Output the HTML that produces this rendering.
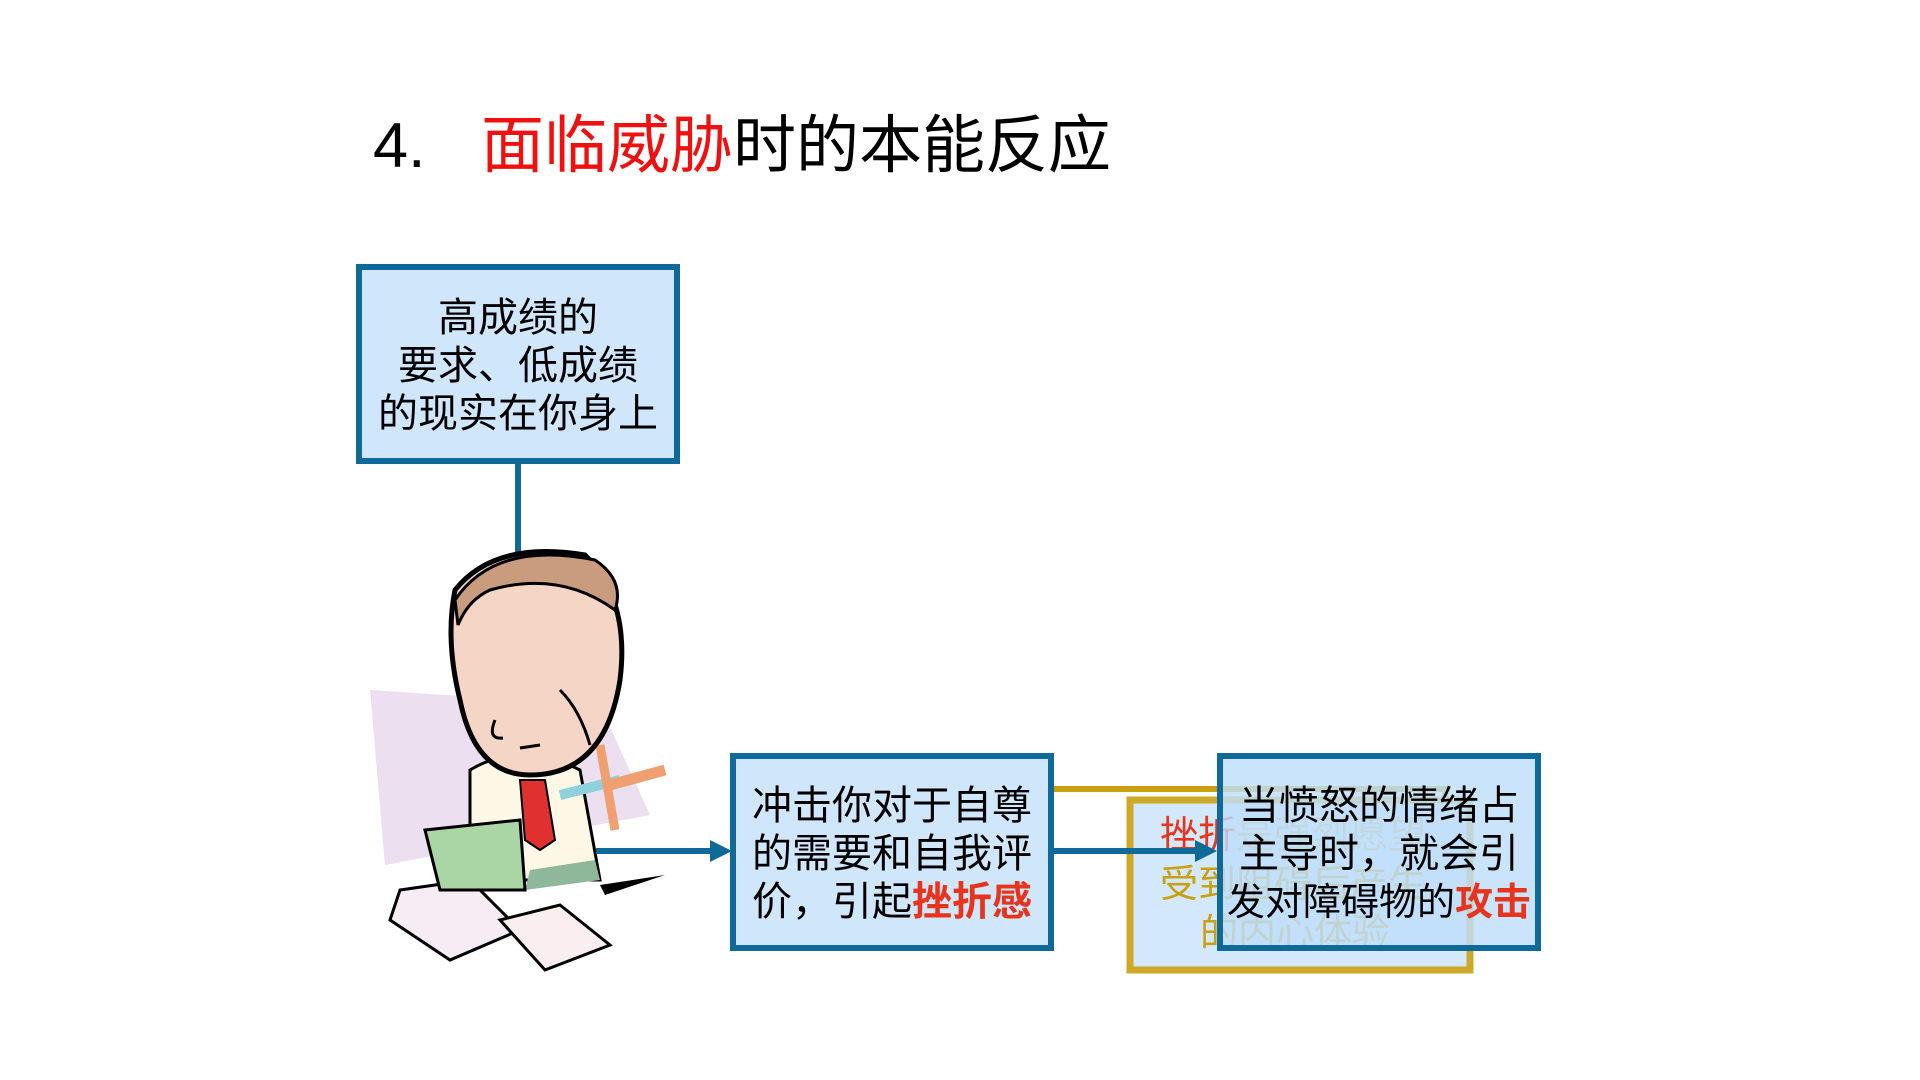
<!DOCTYPE html>
<html><head><meta charset="utf-8"><style>
body{margin:0;width:1920px;height:1080px;background:#fff;position:relative;overflow:hidden;font-family:"Liberation Sans","Noto Sans CJK SC",sans-serif;}
.t{position:absolute;white-space:nowrap}
.box{position:absolute;box-sizing:border-box;border:6px solid #0f6a9a;background:#cfe6fb;text-align:center;font-size:40px;line-height:48px;color:#000;white-space:nowrap}
.r{color:#e8341c;font-weight:bold}
</style></head><body>
<div class="t" style="left:373px;top:109px;font-size:63px;line-height:75px;">4.&nbsp;<span style="position:absolute;left:108px;color:#f01010">面临威胁</span><span style="position:absolute;left:360px">时的本能反应</span></div>

<div class="box" style="left:356px;top:264px;width:324px;height:200px;padding-top:24px">高成绩的<br>要求、低成绩<br>的现实在你身上</div>

<svg width="1920" height="1080" style="position:absolute;left:0;top:0">
<line x1="518" y1="463" x2="518" y2="555" stroke="#0f6a9a" stroke-width="6"/>
<polygon points="370,690 600,705 650,815 385,865" fill="#ece0f0"/>
<polygon points="400,890 470,880 520,930 450,960 390,920" fill="#f6ecf4" stroke="#000" stroke-width="3"/>
<polygon points="500,920 560,905 610,945 545,970" fill="#fbeef0" stroke="#000" stroke-width="3"/>
<path d="M470,770 Q520,740 580,770 L600,880 L470,880 Z" fill="#fdf8e6" stroke="#000" stroke-width="3"/>
<path d="M520,780 L545,780 L555,840 L540,850 L525,840 Z" fill="#e03030" stroke="#000" stroke-width="2"/>
<path d="M530,870 L595,860 L600,880 L525,890 Z" fill="#8fb89a"/>
<polygon points="425,830 520,820 525,890 440,890" fill="#a9d6a4" stroke="#000" stroke-width="3"/>
<line x1="560" y1="795" x2="620" y2="780" stroke="#8ed0dc" stroke-width="10"/>
<line x1="600" y1="745" x2="615" y2="830" stroke="#f0a070" stroke-width="9"/>
<line x1="610" y1="785" x2="665" y2="770" stroke="#f0a070" stroke-width="11"/>
<path d="M600,885 L665,875 L605,895 Z" fill="#000"/>
<path d="M455,590 Q495,540 585,555 Q630,600 620,680 Q605,775 530,775 Q475,775 460,700 Q445,640 455,590 Z" fill="#f5d5c5" stroke="#000" stroke-width="5"/>
<path d="M455,600 Q495,540 595,560 Q625,580 615,610 Q560,570 490,590 Q468,600 458,625 Z" fill="#c99c80" stroke="#000" stroke-width="3"/>
<path d="M495,720 q-8,20 8,18" stroke="#000" stroke-width="3" fill="none"/>
<path d="M520,748 l20,-3" stroke="#000" stroke-width="3"/>
<path d="M560,690 q20,20 30,55" stroke="#000" stroke-width="3" fill="none"/>
<path d="M1054,789 L1445,789 L1445,800" fill="none" stroke="#c9a010" stroke-width="6"/>
<rect x="1130" y="800" width="340" height="170" fill="#cfe6fb" stroke="#c9a010" stroke-width="7" opacity="0.9"/>
<text x="1160" y="848" font-size="38" fill="#e8341c" font-family="Liberation Sans,Noto Sans CJK SC,sans-serif">挫折<tspan fill="#c9a010" opacity="0.6">是强烈愿望</tspan></text>
<text x="1160" y="897" font-size="38" fill="#c9a010" font-family="Liberation Sans,Noto Sans CJK SC,sans-serif">受到阻碍后产生</text>
<text x="1200" y="946" font-size="38" fill="#c9a010" font-family="Liberation Sans,Noto Sans CJK SC,sans-serif">的内心体验</text>
<line x1="596" y1="851" x2="715" y2="851" stroke="#0f6a9a" stroke-width="6"/>
<polygon points="732,851 710,840 710,862" fill="#0f6a9a"/>
<line x1="1054" y1="851" x2="1200" y2="851" stroke="#0f6a9a" stroke-width="6"/>
<polygon points="1217,851 1195,840 1195,862" fill="#0f6a9a"/>
</svg>

<div class="box" style="left:730px;top:753px;width:324px;height:198px;padding-top:23px">冲击你对于自尊<br>的需要和自我评<br>价，引起<span class="r">挫折感</span></div>
<div class="box" style="left:1217px;top:753px;width:324px;height:198px;padding-top:23px;background:rgba(190,222,250,0.82)">当愤怒的情绪占<br>主导时，就会引<br><span style="font-size:38px">发对障碍物的<span class="r">攻击</span></span></div>
</body></html>
